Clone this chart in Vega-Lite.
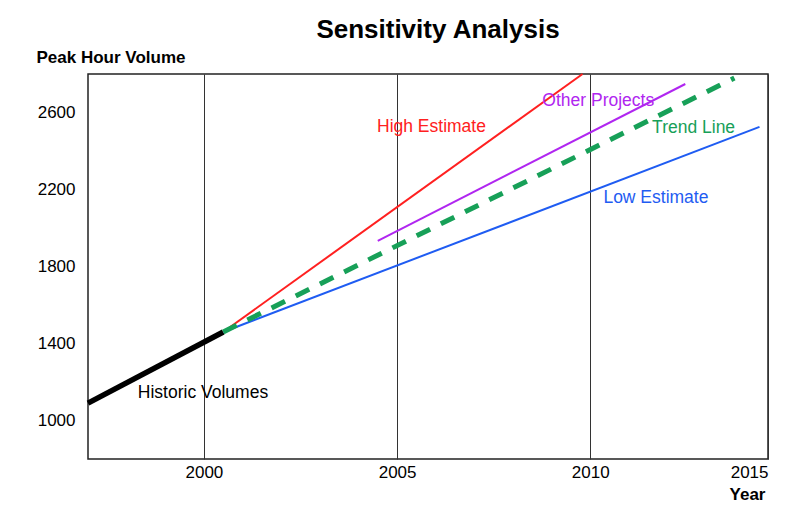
{
  "$schema": "https://vega.github.io/schema/vega-lite/v6.json",
  "width": 680,
  "height": 385,
  "autosize": "none",
  "padding": {"left": 88, "top": 74, "right": 18, "bottom": 46},
  "background": "white",
  "title": {"text": "Sensitivity Analysis", "font": "Liberation Sans", "fontSize": 26, "fontWeight": "bold", "color": "black", "anchor": "middle", "dx": 10, "offset": 5},
  "config": {
    "view": {"stroke": "#222", "strokeWidth": 1.5},
    "axis": {"labelFont": "Liberation Sans", "titleFont": "Liberation Sans", "labelColor": "black", "titleColor": "black", "ticks": false, "domain": false}
  },
  "datasets": {
    "lines": [
      {"series": "Historic Volumes", "year": 1997.0, "value": 1090},
      {"series": "Historic Volumes", "year": 2000.5, "value": 1460},
      {"series": "High Estimate", "year": 2000.5, "value": 1460},
      {"series": "High Estimate", "year": 2009.8, "value": 2800},
      {"series": "Other Projects", "year": 2004.5, "value": 1933},
      {"series": "Other Projects", "year": 2012.46, "value": 2748},
      {"series": "Low Estimate", "year": 2000.5, "value": 1460},
      {"series": "Low Estimate", "year": 2014.38, "value": 2525},
      {"series": "Trend Line", "year": 2000.5, "value": 1460},
      {"series": "Trend Line", "year": 2013.73, "value": 2779}
    ],
    "labels": [
      {"series": "High Estimate", "year": 2004.48, "value": 2525},
      {"series": "Other Projects", "year": 2008.76, "value": 2660},
      {"series": "Trend Line", "year": 2011.6, "value": 2520},
      {"series": "Low Estimate", "year": 2010.34, "value": 2156},
      {"series": "Historic Volumes", "year": 1998.29, "value": 1143}
    ]
  },
  "encoding": {
    "x": {"field": "year", "type": "quantitative", "scale": {"domain": [1997, 2014.6], "nice": false, "zero": false},
      "axis": {"values": [2000, 2005, 2010, 2014.6], "labelExpr": "datum.value > 2014 ? '2015' : datum.label", "format": "d", "labelFlush": true, "labelFontSize": 17, "labelPadding": 5, "grid": true, "gridColor": "#333", "gridWidth": 1, "gridOpacity": 1,
        "title": "Year", "titleFontSize": 17, "titleFontWeight": "bold", "titleAlign": "right", "titleAnchor": "end", "titleX": 677, "titleY": 40, "titleBaseline": "alphabetic"}},
    "y": {"field": "value", "type": "quantitative", "scale": {"domain": [800, 2800], "nice": false, "zero": false},
      "axis": {"values": [1000, 1400, 1800, 2200, 2600], "format": "d", "labelFontSize": 17, "labelPadding": 13, "grid": false,
        "title": "Peak Hour Volume", "titleFontSize": 17, "titleFontWeight": "bold", "titleAngle": 0, "titleAlign": "left", "titleBaseline": "alphabetic", "titleX": -52, "titleY": -12}},
    "color": {"field": "series", "type": "nominal", "legend": null,
      "scale": {"domain": ["Historic Volumes", "High Estimate", "Other Projects", "Trend Line", "Low Estimate"], "range": ["#000000", "#ff2020", "#b026f0", "#17a058", "#1f5cf2"]}}
  },
  "layer": [
    {"data": {"name": "lines"}, "transform": [{"filter": "datum.series === 'Historic Volumes'"}], "mark": {"type": "line", "strokeWidth": 5.5, "strokeCap": "butt"}, "encoding": {"detail": {"field": "series"}}},
    {"data": {"name": "lines"}, "transform": [{"filter": "datum.series === 'High Estimate' || datum.series === 'Other Projects' || datum.series === 'Low Estimate'"}], "mark": {"type": "line", "strokeWidth": 2}, "encoding": {"detail": {"field": "series"}}},
    {"data": {"name": "lines"}, "transform": [{"filter": "datum.series === 'Trend Line'"}], "mark": {"type": "line", "strokeWidth": 5, "strokeDash": [15, 12], "strokeCap": "butt"}, "encoding": {"detail": {"field": "series"}}},
    {"data": {"name": "labels"}, "mark": {"type": "text", "font": "Liberation Sans", "fontSize": 17.5, "align": "left", "baseline": "middle"}, "encoding": {"text": {"field": "series"}}}
  ]
}
